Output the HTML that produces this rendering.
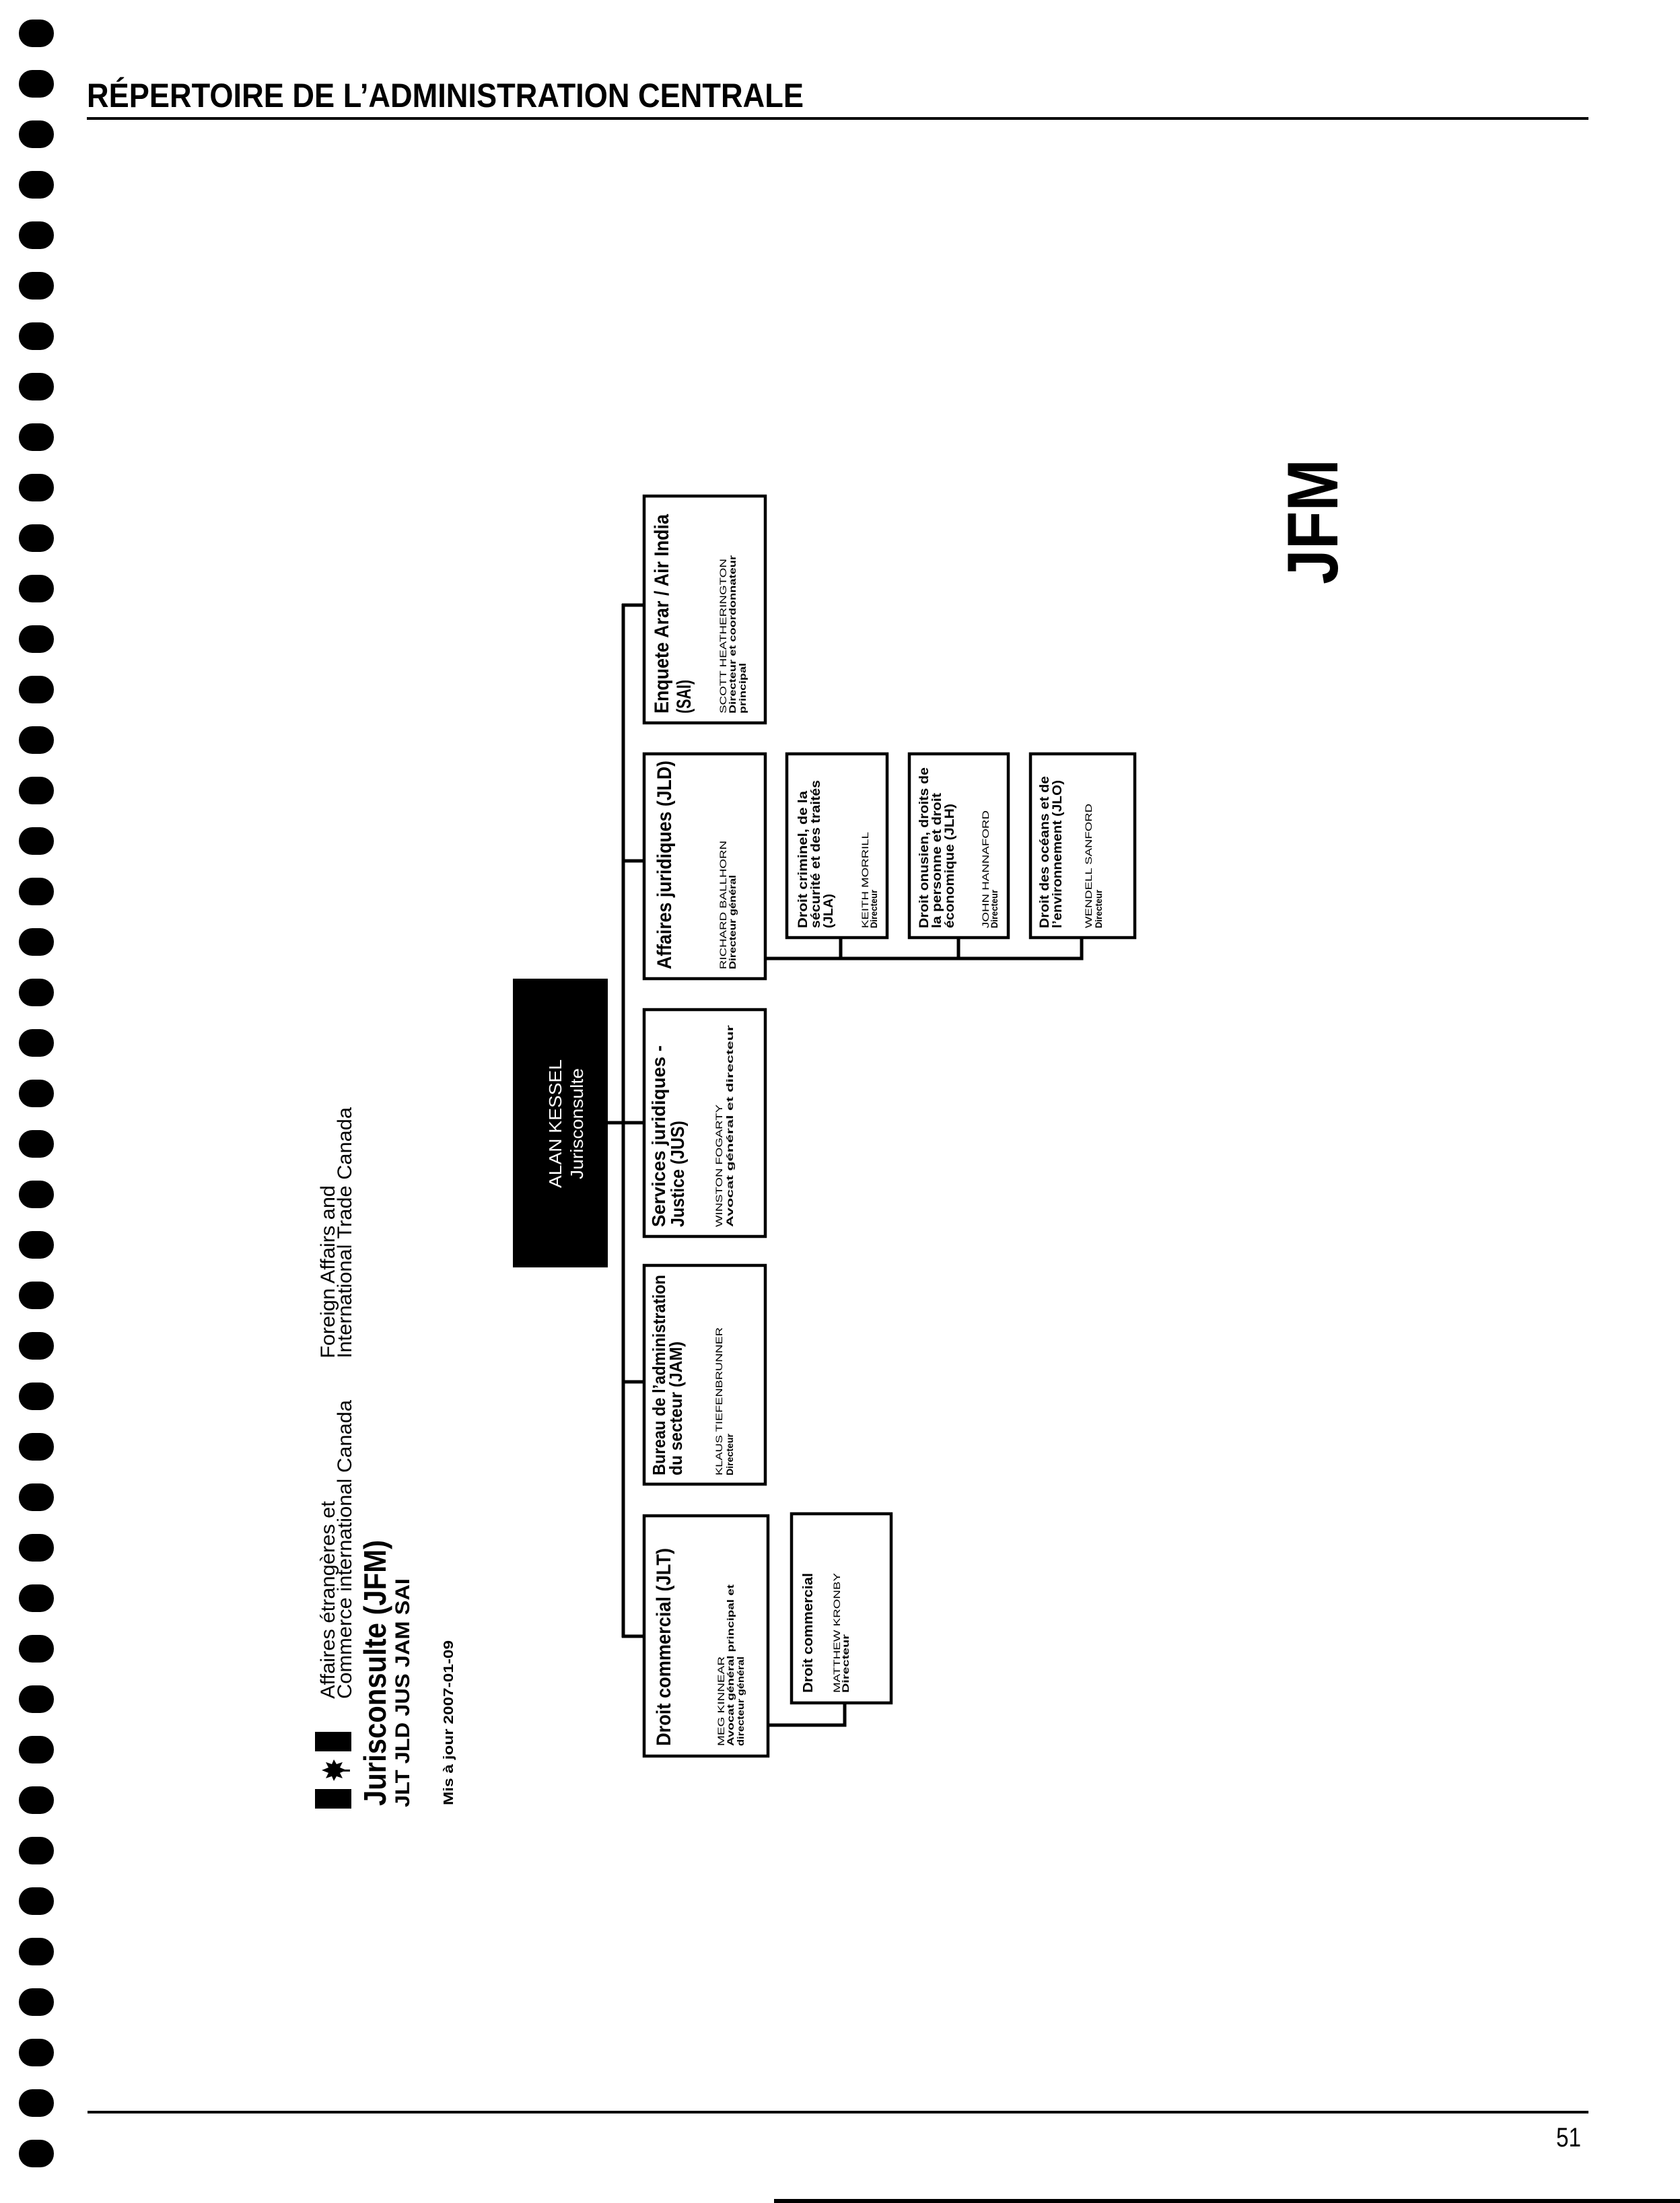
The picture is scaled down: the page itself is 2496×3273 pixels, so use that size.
<!DOCTYPE html>
<html><head><meta charset="utf-8"><style>
html,body{margin:0;padding:0;background:#fff;}
svg{display:block;}
text{font-family:"Liberation Sans",sans-serif;fill:#000;}
.b{font-weight:bold;}
</style></head><body>
<svg width="2496" height="3273" viewBox="0 0 2496 3273" xmlns="http://www.w3.org/2000/svg">
<rect width="2496" height="3273" fill="#fff"/>
<g fill="#000">
<rect x="28" y="29" width="52" height="41" rx="20"/><rect x="28" y="104" width="52" height="41" rx="20"/><rect x="28" y="179" width="52" height="41" rx="20"/><rect x="28" y="254" width="52" height="41" rx="20"/><rect x="28" y="329" width="52" height="41" rx="20"/><rect x="28" y="404" width="52" height="41" rx="20"/><rect x="28" y="479" width="52" height="41" rx="20"/><rect x="28" y="554" width="52" height="41" rx="20"/><rect x="28" y="629" width="52" height="41" rx="20"/><rect x="28" y="704" width="52" height="41" rx="20"/><rect x="28" y="779" width="52" height="41" rx="20"/><rect x="28" y="854" width="52" height="41" rx="20"/><rect x="28" y="929" width="52" height="41" rx="20"/><rect x="28" y="1004" width="52" height="41" rx="20"/><rect x="28" y="1079" width="52" height="41" rx="20"/><rect x="28" y="1154" width="52" height="41" rx="20"/><rect x="28" y="1229" width="52" height="41" rx="20"/><rect x="28" y="1304" width="52" height="41" rx="20"/><rect x="28" y="1379" width="52" height="41" rx="20"/><rect x="28" y="1454" width="52" height="41" rx="20"/><rect x="28" y="1529" width="52" height="41" rx="20"/><rect x="28" y="1604" width="52" height="41" rx="20"/><rect x="28" y="1679" width="52" height="41" rx="20"/><rect x="28" y="1754" width="52" height="41" rx="20"/><rect x="28" y="1829" width="52" height="41" rx="20"/><rect x="28" y="1904" width="52" height="41" rx="20"/><rect x="28" y="1979" width="52" height="41" rx="20"/><rect x="28" y="2054" width="52" height="41" rx="20"/><rect x="28" y="2129" width="52" height="41" rx="20"/><rect x="28" y="2204" width="52" height="41" rx="20"/><rect x="28" y="2279" width="52" height="41" rx="20"/><rect x="28" y="2354" width="52" height="41" rx="20"/><rect x="28" y="2429" width="52" height="41" rx="20"/><rect x="28" y="2504" width="52" height="41" rx="20"/><rect x="28" y="2579" width="52" height="41" rx="20"/><rect x="28" y="2654" width="52" height="41" rx="20"/><rect x="28" y="2729" width="52" height="41" rx="20"/><rect x="28" y="2804" width="52" height="41" rx="20"/><rect x="28" y="2879" width="52" height="41" rx="20"/><rect x="28" y="2954" width="52" height="41" rx="20"/><rect x="28" y="3029" width="52" height="41" rx="20"/><rect x="28" y="3104" width="52" height="41" rx="20"/><rect x="28" y="3179" width="52" height="41" rx="20"/>
</g>
<text x="129" y="159" class="b" font-size="50" textLength="1065" lengthAdjust="spacingAndGlyphs">RÉPERTOIRE DE L’ADMINISTRATION CENTRALE</text>
<rect x="129" y="174" width="2231" height="4" fill="#000"/>
<rect x="130" y="3136" width="2230" height="4" fill="#000"/>
<text x="2312" y="3189" font-size="40" textLength="37" lengthAdjust="spacingAndGlyphs">51</text>
<rect x="1150" y="3267" width="1346" height="6" fill="#000"/>
<text transform="translate(1987,868) rotate(-90)" class="b" font-size="107" textLength="186" lengthAdjust="spacingAndGlyphs">JFM</text>

<rect x="468" y="2573" width="54" height="29" fill="#000"/>
<rect x="468" y="2658" width="54" height="29" fill="#000"/>
<path d="M478 2630 L488 2626 L484 2618 L493 2621 L496 2614 L500 2621 L509 2618 L505 2626 L515 2630 L505 2634 L509 2642 L500 2639 L496 2646 L493 2639 L484 2642 L488 2634 Z" fill="#000"/>
<rect x="508" y="2629" width="12" height="3" fill="#000"/>

<g font-size="30">
<text transform="translate(497,2524) rotate(-90)" textLength="294" lengthAdjust="spacingAndGlyphs">Affaires étrangères et</text>
<text transform="translate(522,2524) rotate(-90)" textLength="444" lengthAdjust="spacingAndGlyphs">Commerce international Canada</text>
<text transform="translate(497,2018) rotate(-90)" textLength="257" lengthAdjust="spacingAndGlyphs">Foreign Affairs and</text>
<text transform="translate(522,2018) rotate(-90)" textLength="373" lengthAdjust="spacingAndGlyphs">International Trade Canada</text>
</g>
<text transform="translate(573,2683) rotate(-90)" class="b" font-size="46" textLength="395" lengthAdjust="spacingAndGlyphs">Jurisconsulte (JFM)</text>
<text transform="translate(608,2685) rotate(-90)" class="b" font-size="30" textLength="340" lengthAdjust="spacingAndGlyphs">JLT JLD JUS JAM SAI</text>
<text transform="translate(673,2682) rotate(-90)" class="b" font-size="20" textLength="245" lengthAdjust="spacingAndGlyphs">Mis à jour 2007-01-09</text>

<g stroke="#000" stroke-width="5" fill="none">
<line x1="926" y1="897" x2="926" y2="2433"/>
<line x1="924" y1="899" x2="955" y2="899"/>
<line x1="924" y1="1279" x2="955" y2="1279"/>
<line x1="903" y1="1668" x2="955" y2="1668"/>
<line x1="924" y1="2053" x2="955" y2="2053"/>
<line x1="924" y1="2431" x2="955" y2="2431"/>
<polyline points="1139,1424 1607,1424 1607,1395"/>
<line x1="1249" y1="1395" x2="1249" y2="1424"/>
<line x1="1424" y1="1395" x2="1424" y2="1424"/>
<polyline points="1255,2532 1255,2563 1143,2563"/>
</g>

<rect x="762" y="1454" width="141" height="429" fill="#000"/>
<g stroke="#000" stroke-width="4.5" fill="#fff">
<rect x="957" y="737" width="180" height="337"/>
<rect x="957" y="1120" width="180" height="334"/>
<rect x="1169" y="1120" width="149" height="273"/>
<rect x="1351" y="1120" width="147" height="273"/>
<rect x="1531" y="1120" width="155" height="273"/>
<rect x="957" y="1500" width="180" height="337"/>
<rect x="957" y="1880" width="180" height="325"/>
<rect x="957" y="2252" width="184" height="357"/>
<rect x="1176" y="2249" width="148" height="281"/>
</g>

<text transform="translate(834,1765) rotate(-90)" font-size="26" style="fill:#fff" textLength="191" lengthAdjust="spacingAndGlyphs">ALAN KESSEL</text>
<text transform="translate(866,1752) rotate(-90)" font-size="26" style="fill:#fff" textLength="165" lengthAdjust="spacingAndGlyphs">Jurisconsulte</text>

<g class="b">
<text transform="translate(993,1060) rotate(-90)" font-size="30" textLength="296" lengthAdjust="spacingAndGlyphs">Enquete Arar / Air India</text>
<text transform="translate(1026,1060) rotate(-90)" font-size="30" textLength="50" lengthAdjust="spacingAndGlyphs">(SAI)</text>
<text transform="translate(997,1440) rotate(-90)" font-size="30" textLength="310" lengthAdjust="spacingAndGlyphs">Affaires juridiques (JLD)</text>
<text transform="translate(988,1823) rotate(-90)" font-size="28" textLength="270" lengthAdjust="spacingAndGlyphs">Services juridiques -</text>
<text transform="translate(1016,1823) rotate(-90)" font-size="28" textLength="158" lengthAdjust="spacingAndGlyphs">Justice (JUS)</text>
<text transform="translate(988,2192) rotate(-90)" font-size="26" textLength="298" lengthAdjust="spacingAndGlyphs">Bureau de l’administration</text>
<text transform="translate(1013,2192) rotate(-90)" font-size="26" textLength="199" lengthAdjust="spacingAndGlyphs">du secteur (JAM)</text>
<text transform="translate(996,2594) rotate(-90)" font-size="30" textLength="294" lengthAdjust="spacingAndGlyphs">Droit commercial (JLT)</text>
<text transform="translate(1207,2515) rotate(-90)" font-size="20" textLength="178" lengthAdjust="spacingAndGlyphs">Droit commercial</text>
<text transform="translate(1199,1379) rotate(-90)" font-size="19" textLength="204" lengthAdjust="spacingAndGlyphs">Droit criminel, de la</text>
<text transform="translate(1218,1379) rotate(-90)" font-size="19" textLength="220" lengthAdjust="spacingAndGlyphs">sécurité et des traités</text>
<text transform="translate(1237,1379) rotate(-90)" font-size="19" textLength="51" lengthAdjust="spacingAndGlyphs">(JLA)</text>
<text transform="translate(1379,1379) rotate(-90)" font-size="19" textLength="239" lengthAdjust="spacingAndGlyphs">Droit onusien, droits de</text>
<text transform="translate(1398,1379) rotate(-90)" font-size="19" textLength="201" lengthAdjust="spacingAndGlyphs">la personne et droit</text>
<text transform="translate(1417,1379) rotate(-90)" font-size="19" textLength="185" lengthAdjust="spacingAndGlyphs">économique (JLH)</text>
<text transform="translate(1558,1379) rotate(-90)" font-size="19" textLength="226" lengthAdjust="spacingAndGlyphs">Droit des océans et de</text>
<text transform="translate(1577,1379) rotate(-90)" font-size="19" textLength="220" lengthAdjust="spacingAndGlyphs">l’environnement (JLO)</text>
</g>

<g font-size="14">
<text transform="translate(1079,1060) rotate(-90)" textLength="230" lengthAdjust="spacingAndGlyphs">SCOTT HEATHERINGTON</text>
<text transform="translate(1093,1060) rotate(-90)" class="b" textLength="235" lengthAdjust="spacingAndGlyphs">Directeur et coordonnateur</text>
<text transform="translate(1108,1060) rotate(-90)" class="b" textLength="75" lengthAdjust="spacingAndGlyphs">principal</text>
<text transform="translate(1079,1440) rotate(-90)" textLength="191" lengthAdjust="spacingAndGlyphs">RICHARD BALLHORN</text>
<text transform="translate(1093,1440) rotate(-90)" class="b" textLength="140" lengthAdjust="spacingAndGlyphs">Directeur général</text>
<text transform="translate(1073,1823) rotate(-90)" textLength="182" lengthAdjust="spacingAndGlyphs">WINSTON FOGARTY</text>
<text transform="translate(1089,1823) rotate(-90)" class="b" textLength="300" lengthAdjust="spacingAndGlyphs">Avocat général et directeur</text>
<text transform="translate(1073,2192) rotate(-90)" textLength="220" lengthAdjust="spacingAndGlyphs">KLAUS TIEFENBRUNNER</text>
<text transform="translate(1089,2192) rotate(-90)" class="b" textLength="62" lengthAdjust="spacingAndGlyphs">Directeur</text>
<text transform="translate(1076,2594) rotate(-90)" textLength="133" lengthAdjust="spacingAndGlyphs">MEG KINNEAR</text>
<text transform="translate(1090,2594) rotate(-90)" class="b" textLength="240" lengthAdjust="spacingAndGlyphs">Avocat général principal et</text>
<text transform="translate(1105,2594) rotate(-90)" class="b" textLength="133" lengthAdjust="spacingAndGlyphs">directeur général</text>
<text transform="translate(1248,2515) rotate(-90)" textLength="178" lengthAdjust="spacingAndGlyphs">MATTHEW KRONBY</text>
<text transform="translate(1261,2515) rotate(-90)" class="b" textLength="87" lengthAdjust="spacingAndGlyphs">Directeur</text>
<text transform="translate(1290,1379) rotate(-90)" textLength="143" lengthAdjust="spacingAndGlyphs">KEITH MORRILL</text>
<text transform="translate(1303,1379) rotate(-90)" class="b" textLength="57" lengthAdjust="spacingAndGlyphs">Directeur</text>
<text transform="translate(1469,1379) rotate(-90)" textLength="175" lengthAdjust="spacingAndGlyphs">JOHN HANNAFORD</text>
<text transform="translate(1482,1379) rotate(-90)" class="b" textLength="57" lengthAdjust="spacingAndGlyphs">Directeur</text>
<text transform="translate(1622,1379) rotate(-90)" textLength="185" lengthAdjust="spacingAndGlyphs">WENDELL SANFORD</text>
<text transform="translate(1637,1379) rotate(-90)" class="b" textLength="57" lengthAdjust="spacingAndGlyphs">Directeur</text>
</g>
</svg>
</body></html>
